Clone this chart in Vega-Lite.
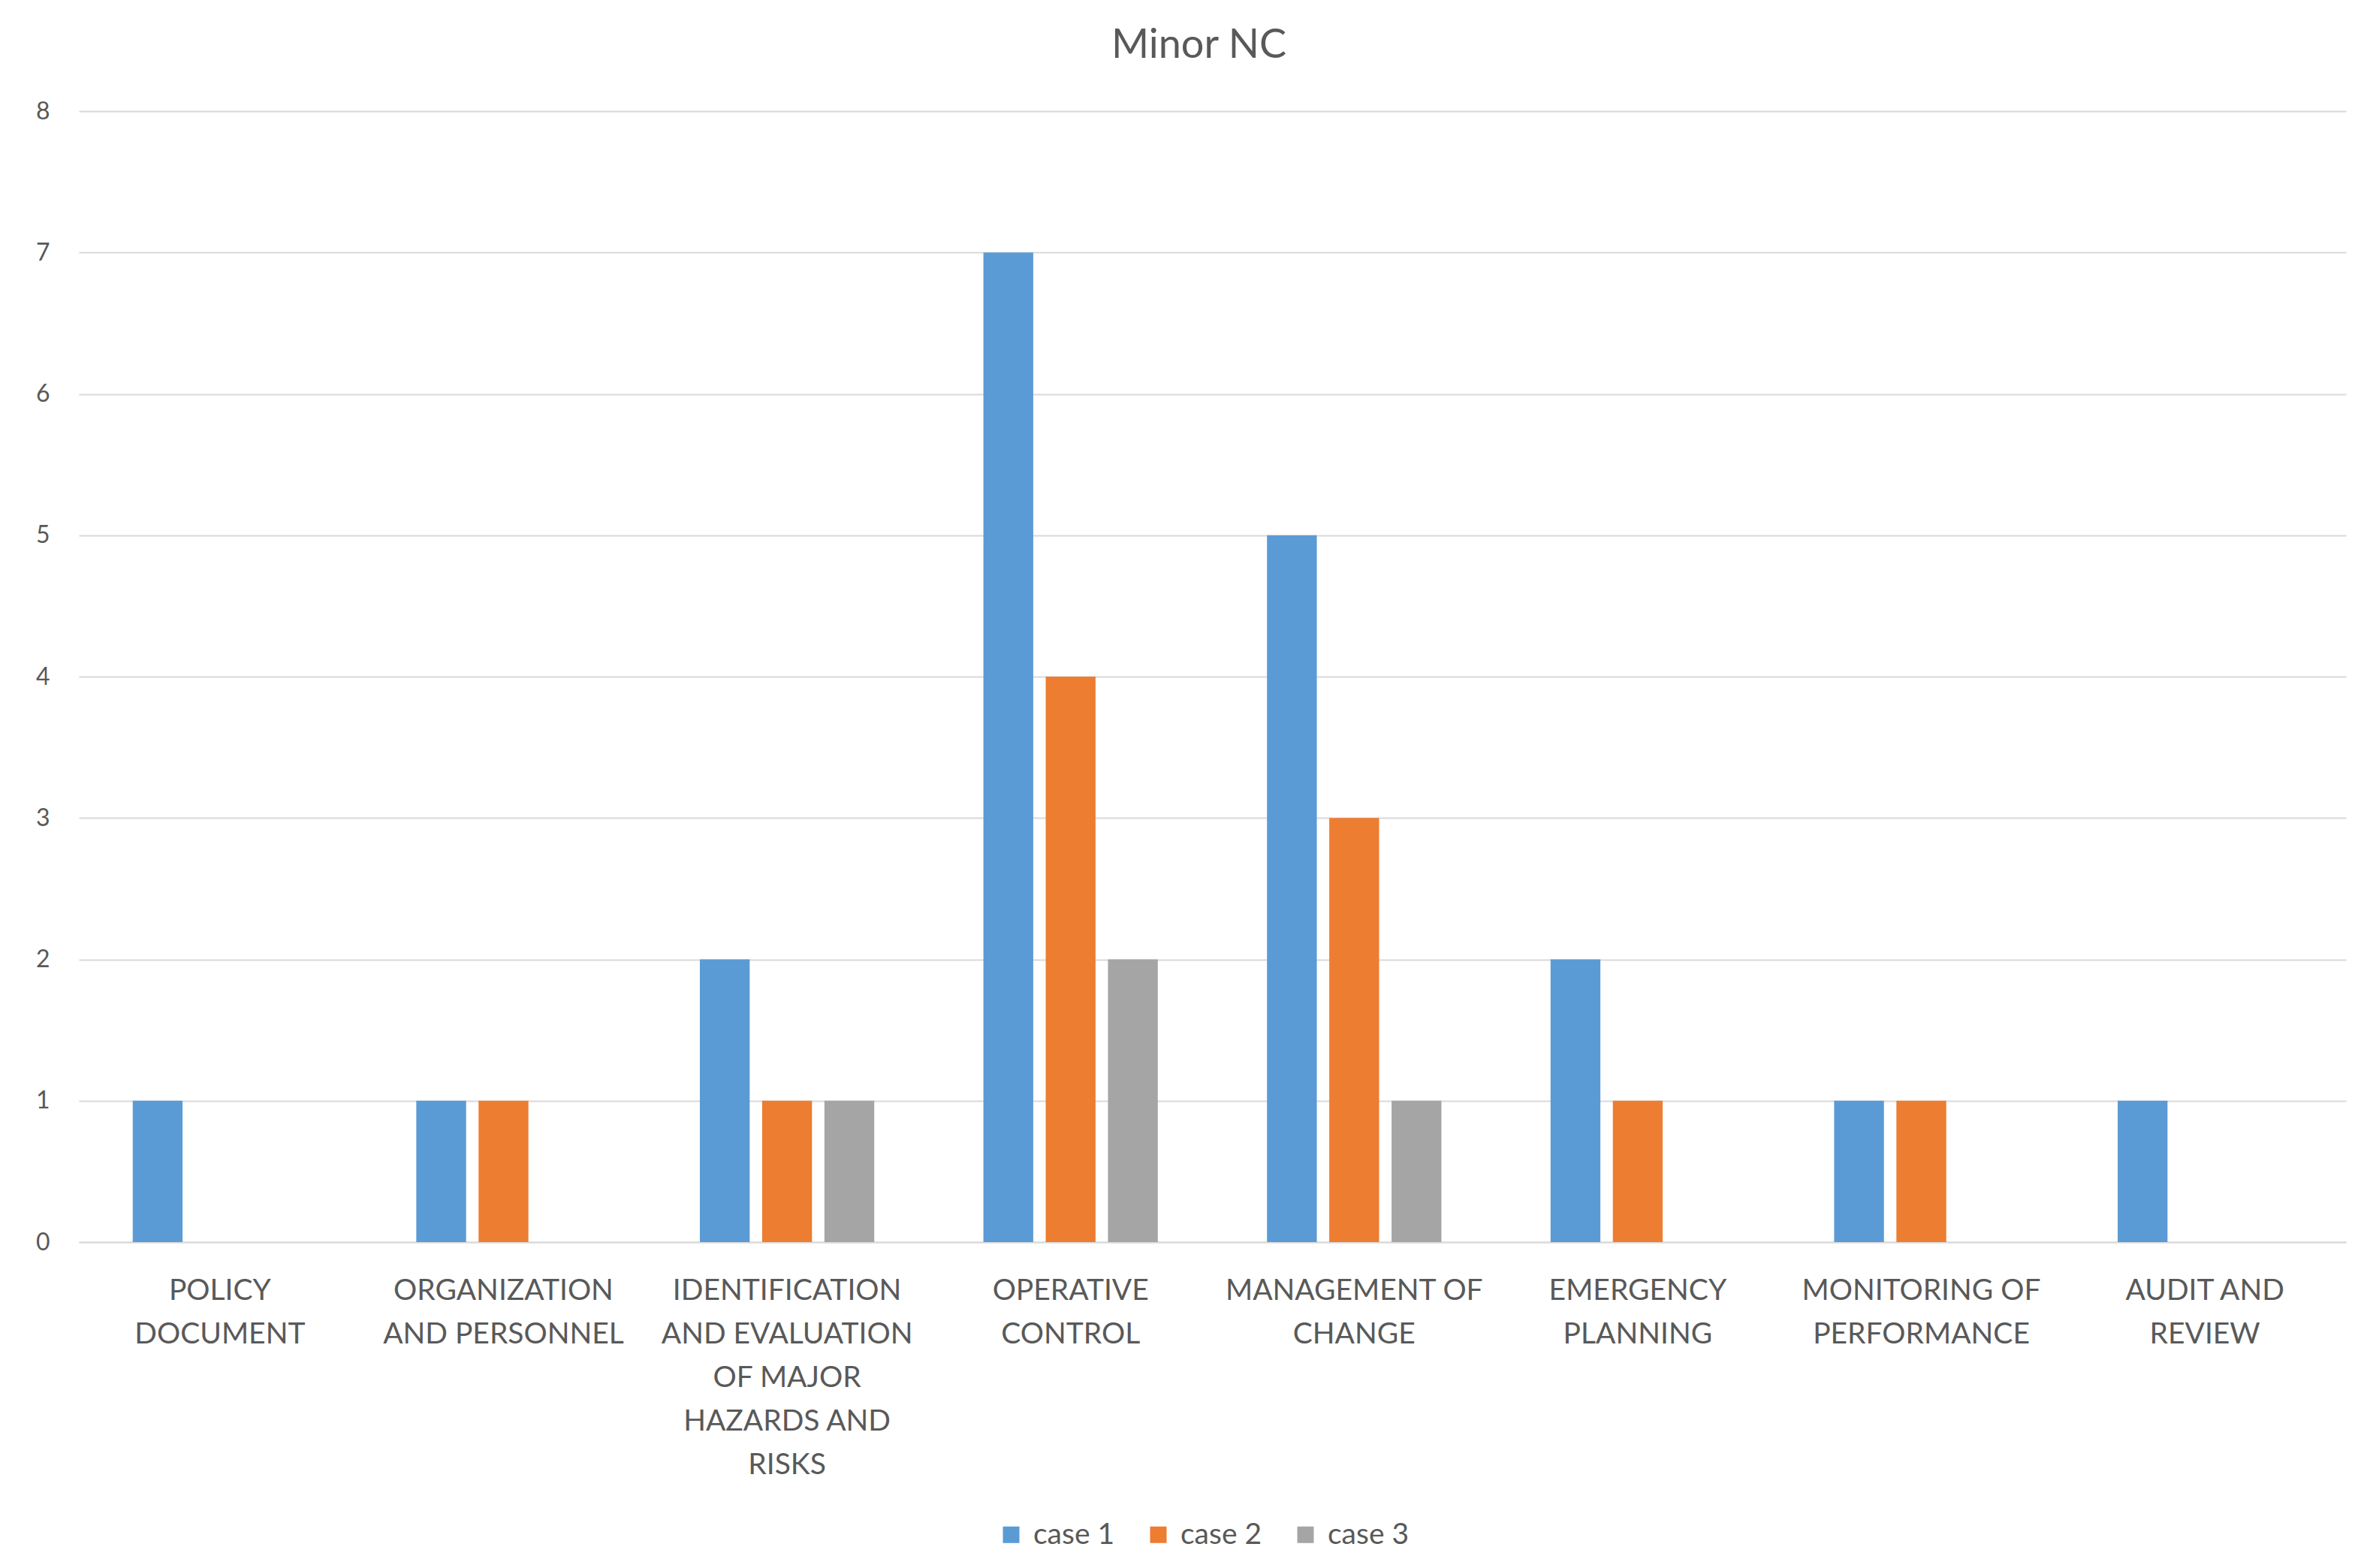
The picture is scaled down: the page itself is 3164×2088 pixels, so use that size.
{
  "$schema": "https://vega.github.io/schema/vega-lite/v6.json",
  "autosize": "none",
  "width": 3019,
  "height": 1506,
  "padding": {"left": 105, "top": 148, "right": 40, "bottom": 434},
  "background": "white",
  "title": {
    "text": "Minor NC",
    "fontSize": 54,
    "font": "Lato",
    "fontWeight": "normal",
    "color": "#595959",
    "anchor": "middle",
    "dx": -18,
    "offset": 44
  },
  "data": {
    "values": [
      {"category": "POLICY DOCUMENT", "series": "case 1", "value": 1},
      {"category": "POLICY DOCUMENT", "series": "case 2", "value": 0},
      {"category": "POLICY DOCUMENT", "series": "case 3", "value": 0},
      {"category": "ORGANIZATION AND PERSONNEL", "series": "case 1", "value": 1},
      {"category": "ORGANIZATION AND PERSONNEL", "series": "case 2", "value": 1},
      {"category": "ORGANIZATION AND PERSONNEL", "series": "case 3", "value": 0},
      {"category": "IDENTIFICATION AND EVALUATION OF MAJOR HAZARDS AND RISKS", "series": "case 1", "value": 2},
      {"category": "IDENTIFICATION AND EVALUATION OF MAJOR HAZARDS AND RISKS", "series": "case 2", "value": 1},
      {"category": "IDENTIFICATION AND EVALUATION OF MAJOR HAZARDS AND RISKS", "series": "case 3", "value": 1},
      {"category": "OPERATIVE CONTROL", "series": "case 1", "value": 7},
      {"category": "OPERATIVE CONTROL", "series": "case 2", "value": 4},
      {"category": "OPERATIVE CONTROL", "series": "case 3", "value": 2},
      {"category": "MANAGEMENT OF CHANGE", "series": "case 1", "value": 5},
      {"category": "MANAGEMENT OF CHANGE", "series": "case 2", "value": 3},
      {"category": "MANAGEMENT OF CHANGE", "series": "case 3", "value": 1},
      {"category": "EMERGENCY PLANNING", "series": "case 1", "value": 2},
      {"category": "EMERGENCY PLANNING", "series": "case 2", "value": 1},
      {"category": "EMERGENCY PLANNING", "series": "case 3", "value": 0},
      {"category": "MONITORING OF PERFORMANCE", "series": "case 1", "value": 1},
      {"category": "MONITORING OF PERFORMANCE", "series": "case 2", "value": 1},
      {"category": "MONITORING OF PERFORMANCE", "series": "case 3", "value": 0},
      {"category": "AUDIT AND REVIEW", "series": "case 1", "value": 1},
      {"category": "AUDIT AND REVIEW", "series": "case 2", "value": 0},
      {"category": "AUDIT AND REVIEW", "series": "case 3", "value": 0}
    ]
  },
  "mark": {"type": "bar"},
  "encoding": {
    "x": {
      "field": "category",
      "type": "nominal",
      "sort": null,
      "scale": {"paddingInner": 0.385, "paddingOuter": 0.19},
      "axis": {
        "title": null,
        "labelAngle": 0,
        "labelFont": "Lato",
        "labelFontSize": 39,
        "labelColor": "#595959",
        "labelLineHeight": 58,
        "labelPadding": 45,
        "labelBaseline": "top",
        "labelLimit": 0,
        "labelOverlap": false,
        "ticks": false,
        "domainColor": "#D9D9D9",
        "domainWidth": 2,
        "labelExpr": "({'POLICY DOCUMENT': ['POLICY', 'DOCUMENT'], 'ORGANIZATION AND PERSONNEL': ['ORGANIZATION', 'AND PERSONNEL'], 'IDENTIFICATION AND EVALUATION OF MAJOR HAZARDS AND RISKS': ['IDENTIFICATION', 'AND EVALUATION', 'OF MAJOR', 'HAZARDS AND', 'RISKS'], 'OPERATIVE CONTROL': ['OPERATIVE', 'CONTROL'], 'MANAGEMENT OF CHANGE': ['MANAGEMENT OF', 'CHANGE'], 'EMERGENCY PLANNING': ['EMERGENCY', 'PLANNING'], 'MONITORING OF PERFORMANCE': ['MONITORING OF', 'PERFORMANCE'], 'AUDIT AND REVIEW': ['AUDIT AND', 'REVIEW']})[datum.label]"
      }
    },
    "xOffset": {
      "field": "series",
      "type": "nominal",
      "scale": {"paddingInner": 0.2, "paddingOuter": 0}
    },
    "y": {
      "field": "value",
      "type": "quantitative",
      "scale": {"domain": [0, 8], "nice": false},
      "axis": {
        "title": null,
        "values": [0, 1, 2, 3, 4, 5, 6, 7, 8],
        "format": "d",
        "domain": false,
        "ticks": false,
        "grid": true,
        "gridColor": "#D9D9D9",
        "gridWidth": 2,
        "labelFont": "Lato",
        "labelFontSize": 32,
        "labelColor": "#595959",
        "labelPadding": 39
      }
    },
    "color": {
      "field": "series",
      "type": "nominal",
      "scale": {"domain": ["case 1", "case 2", "case 3"], "range": ["#5B9BD5", "#ED7D31", "#A5A5A5"]},
      "legend": {
        "title": null,
        "orient": "none",
        "direction": "horizontal",
        "legendX": 1222,
        "legendY": 1876,
        "symbolType": "square",
        "symbolSize": 484,
        "symbolStrokeWidth": 0,
        "labelFont": "Lato",
        "labelFontSize": 39,
        "labelColor": "#595959",
        "labelOffset": 10,
        "columnPadding": 38
      }
    }
  },
  "config": {
    "view": {"stroke": null}
  }
}
